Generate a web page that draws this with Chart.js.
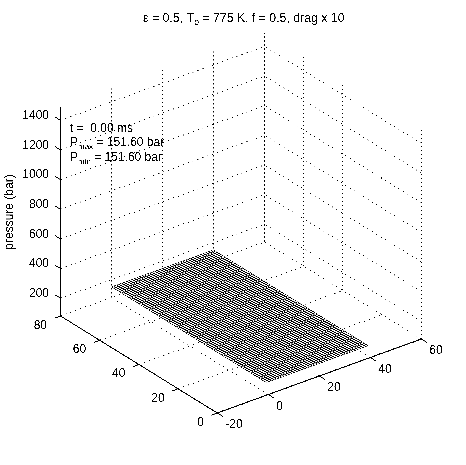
<!DOCTYPE html>
<html>
<head>
<meta charset="utf-8">
<style>
	html, body { margin: 0; background: #fff; }
	/* the original is a 1-bit bitmap, so push the antialiasing back to black or white */
	canvas { display: block; filter: contrast(1000%); }
</style>
<script src="https://cdn.jsdelivr.net/npm/chart.js@4"></script>
</head>
<body>
<canvas id="surface-chart" width="466" height="465"></canvas>
<script>
const x_ticks = [-20, 0, 20, 40, 60];
const y_ticks = [0, 20, 40, 60, 80];
const z_ticks = [200, 400, 600, 800, 1000, 1200, 1400];
const z_range = [80, 1490];

const x_mesh = [0, 1, 2, 3, 4, 5, 6, 7, 8, 9, 10, 11, 12, 13, 14, 15, 16, 17, 18, 19, 20,
	21, 22, 23, 24, 25, 26, 27, 28, 29, 30, 31, 32, 33, 34, 35, 36, 37, 38, 39, 40];
const y_mesh = [1, 2, 3, 4, 5, 6, 7, 8, 9, 10, 11, 12, 13, 14, 15, 16, 17, 18, 19, 20,
	21, 22, 23, 24, 25, 26, 27, 28, 29, 30, 31, 32, 33, 34, 35, 36, 37, 38, 39, 40,
	41, 42, 43, 44, 45, 46, 47, 48, 49, 50, 51, 52, 53, 54, 55, 56, 57, 58, 59, 60,
	61, 62, 63, 64, 65, 66, 67, 68, 69, 70, 71, 72, 73, 74, 75, 76, 77, 78, 79, 80];
const p_surface = 151.6;

const time_ms = 0.00;
const p_max = 151.60;
const p_min = 151.60;

// view of the box: pixels per data unit
const px_per_z = 209 / (z_range[1] - z_range[0]);
const corner_left = 60.5;
const corner_bottom = 316;
const corner_drop = 97;
const label_lift = 4.5;

// screen x in pixels, screen y in z units, so that the z axis stays a true scale
const project = (x, y, z) => ({
	x: corner_left + 156.8 + (x + 20) * 2.55 - y * 1.96,
	y: z + ((x + 20) * 0.925 + y * 1.2125 - corner_drop) / px_per_z,
});

const segment = (points, style) => Object.assign({
	data: points.map(p => project(p[0], p[1], p[2])),
	showLine: true,
	pointRadius: 0,
	borderColor: '#000',
	borderWidth: 1,
	clip: false,
}, style);

const dotted = { borderDash: [1.4, 3.8], order: 5 };
const dotted_up = { borderDash: [1.4, 2.6], order: 5 };
const solid = { order: 1 };
const mesh = { order: 2, borderWidth: 0.62 };

const datasets = [];

// walls and floor
z_ticks.forEach(z => {
	datasets.push(segment([[-20, 80, z], [60, 80, z], [60, 0, z]], dotted));
});
x_ticks.forEach(x => {
	datasets.push(segment([[x, 80, z_range[0]], [x, 80, z_range[1]]], dotted_up));
	datasets.push(segment([[x, 0, z_range[0]], [x, 80, z_range[0]]], dotted));
});
y_ticks.forEach(y => {
	datasets.push(segment([[60, y, z_range[0]], [60, y, z_range[1]]], dotted_up));
	datasets.push(segment([[-20, y, z_range[0]], [60, y, z_range[0]]], dotted));
});

// box axes and their tick marks
datasets.push(segment([[-20, 80, z_range[1]], [-20, 80, z_range[0]], [-20, 0, z_range[0]], [60, 0, z_range[0]]], solid));
x_ticks.forEach(x => {
	datasets.push(segment([[x, 0, z_range[0]], [x, -3, z_range[0]]], solid));
});
y_ticks.forEach(y => {
	datasets.push(segment([[-20, y, z_range[0]], [-22.4, y, z_range[0]]], solid));
});
z_ticks.forEach(z => {
	datasets.push(segment([[-20, 80, z], [-20, 83, z]], solid));
});

// the surface: white faces hide the floor grid, then the wires
const x0 = x_mesh[0], x1 = x_mesh[x_mesh.length - 1];
const y0 = y_mesh[0], y1 = y_mesh[y_mesh.length - 1];
datasets.push(segment([[x0, y0, p_surface], [x1, y0, p_surface], [x1, y1, p_surface], [x0, y1, p_surface], [x0, y0, p_surface]], {
	order: 3,
	borderWidth: 0,
	fill: 'shape',
	backgroundColor: '#fff',
}));
x_mesh.forEach(x => {
	datasets.push(segment(y_mesh.map(y => [x, y, p_surface]), mesh));
});
y_mesh.forEach(y => {
	datasets.push(segment(x_mesh.map(x => [x, y, p_surface]), mesh));
});

const sans = '"Liberation Sans", Helvetica, Arial, sans-serif';

// text with subscripts: runs of [text, font size, baseline drop]
const drawRuns = (ctx, x, y, runs) => {
	runs.forEach(run => {
		ctx.font = run[1] + 'px ' + sans;
		ctx.fillText(run[0], x, y + run[2]);
		x += ctx.measureText(run[0]).width;
	});
};

const boxText = {
	id: 'boxText',
	beforeDraw(chart) {
		const ctx = chart.ctx;
		ctx.save();
		ctx.fillStyle = '#fff';
		ctx.fillRect(0, 0, chart.width, chart.height);
		ctx.restore();
	},
	afterDraw(chart) {
		const ctx = chart.ctx;
		const sx = chart.scales.x;
		const sy = chart.scales.y;
		const at = (x, y, z) => {
			const p = project(x, y, z);
			return [sx.getPixelForValue(p.x), sy.getPixelForValue(p.y)];
		};
		ctx.save();
		ctx.fillStyle = '#000';
		ctx.textBaseline = 'middle';
		ctx.font = '12px ' + sans;

		ctx.textAlign = 'left';
		x_ticks.forEach(x => {
			const p = at(x, 0, z_range[0]);
			ctx.fillText(String(x), p[0] + 8, p[1] + 12);
		});
		ctx.textAlign = 'right';
		y_ticks.forEach(y => {
			const p = at(-20, y, z_range[0]);
			ctx.fillText(String(y), p[0] - 13.5, p[1] + 9.5);
		});

		ctx.save();
		ctx.translate(10, 212);
		ctx.rotate(-Math.PI / 2);
		ctx.textAlign = 'center';
		ctx.fillText('pressure (bar)', 0, 0);
		ctx.restore();

		ctx.textAlign = 'left';
		ctx.textBaseline = 'alphabetic';
		drawRuns(ctx, 143, 22, [['ε = 0.5, T', 12.3, 0], ['p', 9, 3], [' = 775 K, f = 0.5, drag x 10', 12.3, 0]]);
		drawRuns(ctx, 70, 132, [['t =  ' + time_ms.toFixed(2) + ' ms', 12, 0]]);
		drawRuns(ctx, 70, 146, [['P', 12, 0], ['max', 8, 3], [' = ' + p_max.toFixed(2) + ' bar', 12, 0]]);
		drawRuns(ctx, 70, 161, [['P', 12, 0], ['min', 8, 3], [' = ' + p_min.toFixed(2) + ' bar', 12, 0]]);
		ctx.restore();
	},
};

const top_value = z_range[0] + corner_bottom / px_per_z;
const bottom_value = z_range[0] - (465 - corner_bottom) / px_per_z;
const lift_value = label_lift / px_per_z;

new Chart(document.getElementById('surface-chart'), {
	type: 'scatter',
	data: { datasets },
	plugins: [boxText],
	options: {
		responsive: false,
		animation: false,
		events: [],
		layout: { padding: 0 },
		plugins: {
			legend: { display: false },
			tooltip: { enabled: false },
		},
		scales: {
			x: { type: 'linear', min: 0, max: 466, display: false },
			y: { type: 'linear', min: bottom_value, max: top_value, display: false },
			z: {
				type: 'linear',
				axis: 'y',
				position: { x: 49 },
				min: bottom_value - lift_value,
				max: top_value - lift_value,
				afterBuildTicks: scale => {
					scale.ticks = z_ticks.map(value => ({ value }));
				},
				afterFit: scale => {
					scale.paddingTop = 0;
					scale.paddingBottom = 0;
				},
				grid: { display: false, drawTicks: false },
				border: { display: false },
				ticks: {
					autoSkip: false,
					padding: 0,
					color: '#000',
					font: { family: sans, size: 12 },
					callback: value => String(value),
				},
			},
		},
	},
});
</script>
</body>
</html>
